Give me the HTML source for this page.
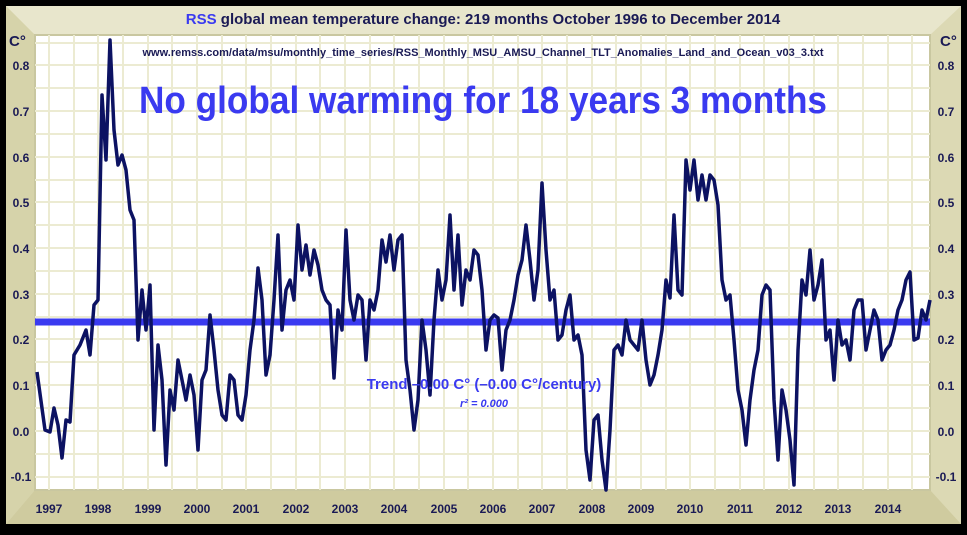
<!DOCTYPE html>
<html><head><style>
body{margin:0;background:#000;width:967px;height:530px;overflow:hidden;font-family:"Liberation Sans",sans-serif}
</style></head><body>
<svg width="967" height="530" xmlns="http://www.w3.org/2000/svg" font-family="Liberation Sans, sans-serif">
<rect x="0" y="0" width="967" height="530" fill="#000"/>
<rect x="6" y="6" width="955" height="518" fill="#dcd9b4"/>
<polygon points="6,6 961,6 930,35 35,35" fill="#e8e6cc"/>
<polygon points="6,524 961,524 930,490 35,490" fill="#cfcb9f"/>
<polygon points="6,6 35,35 35,490 6,524" fill="#d6d3aa"/>
<rect x="35" y="35" width="895" height="455" fill="#fff" stroke="#c9c7a0" stroke-width="2"/>
<g stroke="#ecebd2" stroke-width="2">
<line x1="35" y1="43" x2="930" y2="43"/>
<line x1="35" y1="65" x2="930" y2="65"/><line x1="35" y1="88" x2="930" y2="88"/>
<line x1="35" y1="111" x2="930" y2="111"/><line x1="35" y1="134" x2="930" y2="134"/>
<line x1="35" y1="157" x2="930" y2="157"/><line x1="35" y1="180" x2="930" y2="180"/>
<line x1="35" y1="202" x2="930" y2="202"/><line x1="35" y1="225" x2="930" y2="225"/>
<line x1="35" y1="248" x2="930" y2="248"/><line x1="35" y1="271" x2="930" y2="271"/>
<line x1="35" y1="294" x2="930" y2="294"/><line x1="35" y1="317" x2="930" y2="317"/>
<line x1="35" y1="339" x2="930" y2="339"/><line x1="35" y1="362" x2="930" y2="362"/>
<line x1="35" y1="385" x2="930" y2="385"/><line x1="35" y1="408" x2="930" y2="408"/>
<line x1="35" y1="431" x2="930" y2="431"/><line x1="35" y1="454" x2="930" y2="454"/>
<line x1="35" y1="477" x2="930" y2="477"/>
<line x1="49" y1="35" x2="49" y2="490"/><line x1="74" y1="35" x2="74" y2="490"/><line x1="98" y1="35" x2="98" y2="490"/><line x1="123" y1="35" x2="123" y2="490"/><line x1="148" y1="35" x2="148" y2="490"/><line x1="172" y1="35" x2="172" y2="490"/><line x1="197" y1="35" x2="197" y2="490"/><line x1="222" y1="35" x2="222" y2="490"/><line x1="246" y1="35" x2="246" y2="490"/><line x1="271" y1="35" x2="271" y2="490"/><line x1="296" y1="35" x2="296" y2="490"/><line x1="320" y1="35" x2="320" y2="490"/><line x1="345" y1="35" x2="345" y2="490"/><line x1="370" y1="35" x2="370" y2="490"/><line x1="394" y1="35" x2="394" y2="490"/><line x1="419" y1="35" x2="419" y2="490"/><line x1="444" y1="35" x2="444" y2="490"/><line x1="468" y1="35" x2="468" y2="490"/><line x1="493" y1="35" x2="493" y2="490"/><line x1="518" y1="35" x2="518" y2="490"/><line x1="542" y1="35" x2="542" y2="490"/><line x1="567" y1="35" x2="567" y2="490"/><line x1="592" y1="35" x2="592" y2="490"/><line x1="616" y1="35" x2="616" y2="490"/><line x1="641" y1="35" x2="641" y2="490"/><line x1="666" y1="35" x2="666" y2="490"/><line x1="690" y1="35" x2="690" y2="490"/><line x1="715" y1="35" x2="715" y2="490"/><line x1="740" y1="35" x2="740" y2="490"/><line x1="764" y1="35" x2="764" y2="490"/><line x1="789" y1="35" x2="789" y2="490"/><line x1="814" y1="35" x2="814" y2="490"/><line x1="838" y1="35" x2="838" y2="490"/><line x1="863" y1="35" x2="863" y2="490"/><line x1="888" y1="35" x2="888" y2="490"/><line x1="912" y1="35" x2="912" y2="490"/>
</g>
<line x1="35" y1="322" x2="930" y2="322" stroke="#3a3af0" stroke-width="7"/>
<polyline fill="none" stroke="#0c1262" stroke-width="3.5" stroke-linejoin="round" points="
37,372 45,430 50,432 54,408 58,425 62,458 66,420 70,422 74,355 80,345 86,330 90,355 94,305 98,300 102,95 106,160 110,40 114,130 118,165 122,155 126,170 130,210 134,220 138,340 142,290 146,330 150,285 154,430 158,345 162,380 166,465 170,390 174,410 178,360 182,380 186,400 190,375 194,395 198,450 202,380 206,370 210,315 214,350 218,390 222,415 226,420 230,375 234,380 238,415 242,420 246,395 250,350 254,320 258,268 262,300 266,375 270,355 274,300 278,235 282,330 286,290 290,280 294,300 298,225 302,270 306,245 310,275 314,250 318,265 322,290 326,300 330,305 334,378 338,310 342,330 346,230 350,300 354,320 358,295 362,300 366,360 370,300 374,310 378,290 382,240 386,262 390,235 394,270 398,240 402,235 406,360 410,390 414,430 418,400 422,320 426,350 430,395 434,320 438,270 442,300 446,280 450,215 454,290 458,235 462,305 466,270 470,280 474,250 478,255 482,290 486,350 490,320 494,315 498,318 502,370 506,330 510,320 514,300 518,275 522,260 526,225 530,260 534,300 538,270 542,183 546,250 550,300 554,290 558,340 562,335 566,310 570,295 574,340 578,335 582,355 586,450 590,480 594,420 598,415 602,460 606,490 610,430 614,350 618,345 622,355 626,320 630,340 634,345 638,350 642,320 646,360 650,385 654,375 658,355 662,330 666,280 670,298 674,215 678,290 682,295 686,160 690,190 694,160 698,200 702,175 706,200 710,175 714,180 718,205 722,280 726,300 730,295 734,340 738,390 742,410 746,445 750,400 754,370 758,350 762,295 766,285 770,290 774,400 778,460 782,390 786,410 790,440 794,485 798,350 802,280 806,295 810,250 814,300 818,285 822,260 826,340 830,330 834,380 838,320 842,345 846,340 850,360 854,310 858,300 862,300 866,350 870,330 874,310 878,320 882,360 886,350 890,345 894,330 898,310 902,300 906,280 910,272 914,340 918,338 922,310 926,320 930,300"/>
<text x="483" y="24" text-anchor="middle" font-size="15" font-weight="bold" fill="#1a1a55"><tspan fill="#3a3af0">RSS</tspan> global mean temperature change: 219 months October 1996 to December 2014</text>
<text x="483" y="56" text-anchor="middle" font-size="11" font-weight="bold" fill="#1a1a55">www.remss.com/data/msu/monthly_time_series/RSS_Monthly_MSU_AMSU_Channel_TLT_Anomalies_Land_and_Ocean_v03_3.txt</text>
<text x="483" y="113" text-anchor="middle" font-size="38" font-weight="bold" fill="#3a3af0" textLength="688" lengthAdjust="spacingAndGlyphs">No global warming for 18 years 3 months</text>
<text x="484" y="389" text-anchor="middle" font-size="15" font-weight="bold" fill="#3a3af0">Trend –0.00 C° (–0.00 C°/century)</text>
<text x="484" y="407" text-anchor="middle" font-size="11" font-style="italic" font-weight="bold" fill="#3a3af0">r² = 0.000</text>
<g font-size="13" font-weight="bold" fill="#1a1a55">
<text x="9" y="46" font-size="15">C°</text><text x="940" y="46" font-size="15">C°</text>
</g>
<g font-size="12" font-weight="bold" fill="#1a1a55" text-anchor="middle">
<text x="21" y="70">0.8</text><text x="21" y="116">0.7</text><text x="21" y="162">0.6</text><text x="21" y="207">0.5</text><text x="21" y="253">0.4</text><text x="21" y="299">0.3</text><text x="21" y="344">0.2</text><text x="21" y="390">0.1</text><text x="21" y="436">0.0</text><text x="21" y="481">-0.1</text>
<text x="946" y="70">0.8</text><text x="946" y="116">0.7</text><text x="946" y="162">0.6</text><text x="946" y="207">0.5</text><text x="946" y="253">0.4</text><text x="946" y="299">0.3</text><text x="946" y="344">0.2</text><text x="946" y="390">0.1</text><text x="946" y="436">0.0</text><text x="946" y="481">-0.1</text>
<text x="49" y="513">1997</text><text x="98" y="513">1998</text><text x="148" y="513">1999</text><text x="197" y="513">2000</text><text x="246" y="513">2001</text><text x="296" y="513">2002</text><text x="345" y="513">2003</text><text x="394" y="513">2004</text><text x="444" y="513">2005</text><text x="493" y="513">2006</text><text x="542" y="513">2007</text><text x="592" y="513">2008</text><text x="641" y="513">2009</text><text x="690" y="513">2010</text><text x="740" y="513">2011</text><text x="789" y="513">2012</text><text x="838" y="513">2013</text><text x="888" y="513">2014</text>
</g>
</svg>
</body></html>
